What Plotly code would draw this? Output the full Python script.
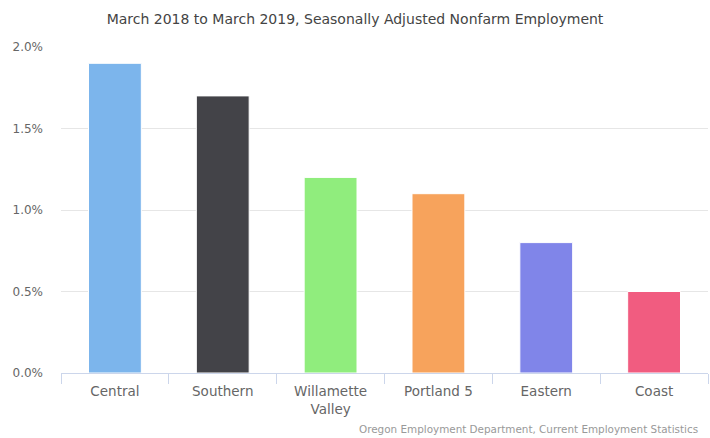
import plotly.graph_objects as go

categories = ["Central", "Southern", "Willamette<br>Valley", "Portland 5", "Eastern", "Coast"]
values = [1.9, 1.7, 1.2, 1.1, 0.8, 0.5]
colors = ["#7cb5ec", "#434348", "#90ed7d", "#f7a35c", "#8085e9", "#f15c80"]
y_ticks = [0, 0.5, 1.0, 1.5, 2.0]
y_tick_labels = ["0.0%", "0.5%", "1.0%", "1.5%", "2.0%"]

font_family = "DejaVu Sans"

fig = go.Figure(go.Bar(
    x=categories,
    y=values,
    marker=dict(color=colors, line=dict(color="#ffffff", width=1)),
    width=0.49,
    hoverinfo="skip",
))

fig.update_layout(
    width=710,
    height=438,
    margin=dict(l=61, r=2, t=47, b=65),
    paper_bgcolor="#ffffff",
    plot_bgcolor="#ffffff",
    showlegend=False,
    font=dict(family=font_family, color="#666666"),
    title=dict(
        text="March 2018 to March 2019, Seasonally Adjusted Nonfarm Employment",
        x=0.5, xanchor="center", y=1 - 19.5 / 438, yanchor="middle",
        font=dict(family=font_family, size=14, color="#444444"),
    ),
    xaxis=dict(
        type="category",
        showline=True, linecolor="#ccd6eb", linewidth=1,
        ticks="outside", tickson="boundaries", ticklen=10, tickcolor="#ccd6eb",
        showgrid=False, ticklabelstandoff=6,
        tickfont=dict(family=font_family, size=13.5, color="#666666"),
    ),
    yaxis=dict(
        range=[0, 2.0],
        tickvals=y_ticks, ticktext=y_tick_labels,
        showgrid=True, gridcolor="#e6e6e6", gridwidth=1,
        zeroline=False, showline=False,
        ticks="", ticklabelstandoff=17,
        tickfont=dict(family=font_family, size=12, color="#666666"),
    ),
    annotations=[dict(
        text="Oregon Employment Department, Current Employment Statistics",
        xref="paper", yref="paper", x=1, y=0, xanchor="right", yanchor="bottom",
        showarrow=False, xshift=-8, yshift=-64,
        font=dict(family=font_family, size=10.4, color="#999999"),
    )],
)

fig.write_html(
    "out.html",
    config={"displayModeBar": False},
    post_script="document.body.style.margin='0';document.body.style.overflow='hidden';",
)
